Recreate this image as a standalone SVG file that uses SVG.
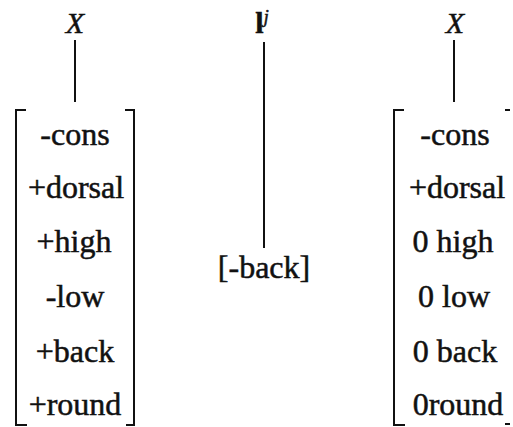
<svg xmlns="http://www.w3.org/2000/svg" width="513" height="427" viewBox="0 0 513 427">
<style>
text{font-family:"Liberation Serif",serif;fill:#111;text-anchor:middle;stroke:#111;stroke-width:0.5}
.f{font-size:32px}
.x{font-size:30px;font-style:italic}
.ln{stroke:#111;stroke-width:2;fill:none}
</style>
<rect width="513" height="427" fill="#fff"/>
<g id="connectors">
<line class="ln" x1="75" y1="40" x2="75" y2="102"/>
<line class="ln" x1="264" y1="42" x2="264" y2="248"/>
<line class="ln" x1="454" y1="40" x2="454" y2="102"/>
</g>
<g id="x-left"><text class="x" x="75" y="33">X</text></g>
<g id="lj"><text x="262" y="33" style="font-size:30px;font-weight:bold">l<tspan dy="-10" style="font-size:18px;font-style:italic;font-weight:normal">j</tspan></text></g>
<g id="x-right"><text class="x" x="455" y="33">X</text></g>
<g id="matrix-left">
<path class="ln" d="M26,110 H16 V425 H27"/>
<path class="ln" d="M125,110 H134 V425 H126"/>
<text class="f" x="75" y="145">-cons</text>
<text class="f" x="76" y="198">+dorsal</text>
<text class="f" x="74" y="252">+high</text>
<text class="f" x="75" y="307">-low</text>
<text class="f" x="75" y="362">+back</text>
<text class="f" x="75" y="415">+round</text>
</g>
<g id="back"><text class="f" x="264" y="278">[-back]</text></g>
<g id="matrix-right">
<path class="ln" d="M404,110 H394 V425 H405"/>
<path class="ln" d="M505,110 H510"/>
<path class="ln" d="M505,424 H510"/>
<text class="f" x="455" y="145">-cons</text>
<text class="f" x="457" y="198">+dorsal</text>
<text class="f" x="453" y="252">0 high</text>
<text class="f" x="454" y="307">0 low</text>
<text class="f" x="455" y="362">0 back</text>
<text class="f" x="458" y="415">0round</text>
</g>
</svg>
